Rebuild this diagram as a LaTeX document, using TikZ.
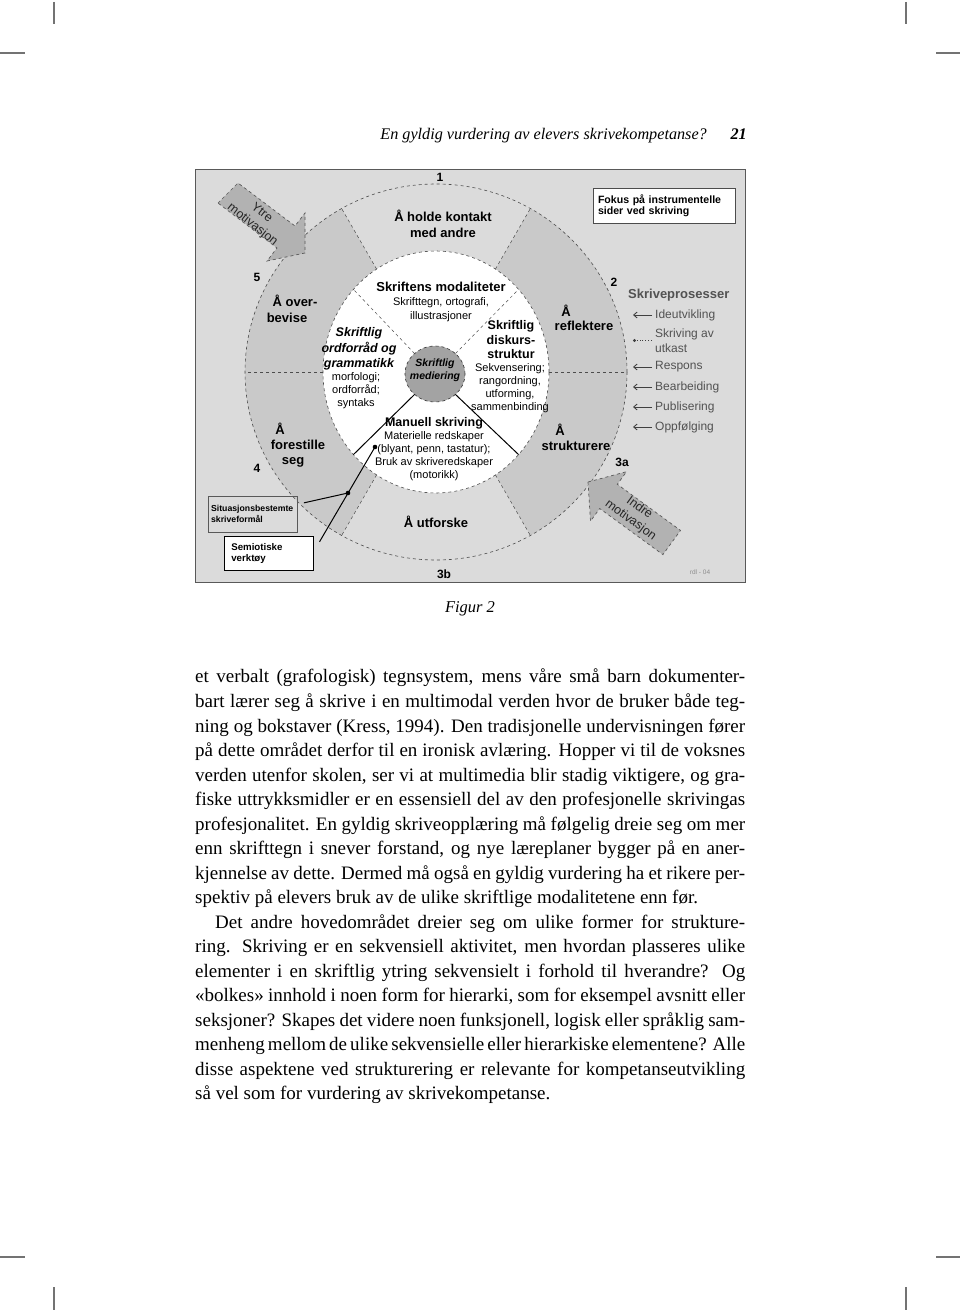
\documentclass[tikz,border=0pt]{standalone}
\usepackage{fontspec}
\setmainfont{Liberation Serif}
\newfontfamily\figfont{Liberation Sans}
\usetikzlibrary{shapes.geometric,arrows.meta}

\newcommand\jline[1]{\makebox[550pt][s]{#1}}
\newcommand\bodyfont{\fontsize{19}{24.53}\selectfont\spaceskip=.25em plus .5em minus .1em\relax}

\tikzset{
  figtext/.style={font=\figfont\fontsize{11}{13}\selectfont, align=center, inner sep=0pt},
  figtitle/.style={font=\figfont\bfseries\fontsize{12.5}{15}\selectfont, align=center, inner sep=0pt},
  ringlabel/.style={font=\figfont\bfseries\fontsize{13}{16}\selectfont, align=center, inner sep=0pt},
  numlabel/.style={font=\figfont\bfseries\fontsize{12}{14}\selectfont, inner sep=0pt},
  procitem/.style={font=\figfont\fontsize{12}{14.5}\selectfont, text=black!68, align=left, anchor=west, inner sep=0pt},
  procarrow/.style={draw=black!75, line width=0.9pt, -{Straight Barb[length=3.5pt,width=6pt]}},
  blockarrow/.style={fill=black!30, draw=black!65, dashed, line width=0.7pt},
  arrowtext/.style={font=\figfont\fontsize{12.5}{15}\selectfont, text=black!85, align=center, inner sep=0pt},
  notebox/.style={font=\figfont\bfseries\fontsize{10.6}{11}\selectfont, draw=black!70, fill=white, align=left, inner ysep=0pt},
  ringedge/.style={ellipse, draw=black!70, dashed, line width=0.6pt, inner sep=0pt, outer sep=0pt},
  cropmark/.style={draw=black!55, line width=1.4pt},
  leader/.style={draw=black, line width=1pt},
}

\begin{document}
\begin{tikzpicture}[x=1pt, y=-1pt]
\useasboundingbox (0,0) rectangle (960,1313);
\fill[white] (0,0) rectangle (960,1313);

% crop marks
\draw[cropmark] (54,2) -- (54,24);
\draw[cropmark] (906,2) -- (906,24);
\draw[cropmark] (0,53) -- (25,53);
\draw[cropmark] (936,53) -- (960,53);
\draw[cropmark] (0,1257) -- (25,1257);
\draw[cropmark] (936,1257) -- (960,1257);
\draw[cropmark] (54,1287) -- (54,1310);
\draw[cropmark] (906,1287) -- (906,1310);

% running head
\node[anchor=base east, inner sep=0pt, font=\itshape\fontsize{16.2}{20}\selectfont] (runhead) at (707,140) {En gyldig vurdering av elevers skrivekompetanse?};
\node[anchor=base east, inner sep=0pt, font=\bfseries\itshape\fontsize{16.2}{20}\selectfont] (folio) at (747,140) {21};

% figure background and ring
\fill[black!14] (195,170) rectangle (745,582);
\begin{scope}
  \clip (436,372) -- (236,26) -- (0,26) -- (0,718) -- (236,718) -- cycle;
  \fill[black!21] (436,372) ellipse [x radius=191pt, y radius=188pt];
\end{scope}
\begin{scope}
  \clip (436,372) -- (636,26) -- (960,26) -- (960,718) -- (636,718) -- cycle;
  \fill[black!21] (436,372) ellipse [x radius=191pt, y radius=188pt];
\end{scope}

\node[ringedge, minimum width=382pt, minimum height=376pt] (outer) at (436,372) {};
\node[ringedge, fill=white, minimum width=226pt, minimum height=242pt] (inner) at (436,372) {};
\foreach \a in {0,60,120,180,240,300}
  \draw[black!70, dashed, line width=0.5pt] (inner.\a) -- (outer.\a);
\node[ringedge, fill=black!36, draw=black!80, minimum width=60pt, minimum height=56pt] (core) at (435,374) {};
\foreach \a in {45,135}
  \draw[black!70, dashed, line width=0.5pt] (core.\a) -- (inner.\a);
\foreach \a in {225,315}
  \draw[black, line width=1pt] (core.\a) -- (inner.\a);

% numbers
\node[numlabel] (n1) at (440,177) {1};
\node[numlabel] (n2) at (614,282) {2};
\node[numlabel] (n3a) at (622,462) {3a};
\node[numlabel] (n3b) at (444,574) {3b};
\node[numlabel] (n4) at (257,468) {4};
\node[numlabel] (n5) at (257,277) {5};

% ring labels
\node[ringlabel] (holdeKontakt) at (443,224) {Å holde kontakt\\med andre};
\node[ringlabel] (overbeviseA) at (295,301) {Å over-};
\node[ringlabel] (overbeviseB) at (287,318) {bevise};
\node[ringlabel] (forestilleA) at (280,429) {Å};
\node[ringlabel] (forestilleB) at (298,445) {forestille};
\node[ringlabel] (forestilleC) at (293,462) {seg};
\node[ringlabel] (reflektereA) at (566,311) {Å};
\node[ringlabel] (reflektereB) at (584,326) {reflektere};
\node[ringlabel] (struktureA) at (560,430) {Å};
\node[ringlabel] (struktureB) at (576,446) {strukturere};
\node[ringlabel] (utforske) at (436,522) {Å utforske};

% inner circle texts
\node[figtitle, font=\figfont\bfseries\fontsize{13}{15}\selectfont] (modalTitle) at (441,287) {Skriftens modaliteter};
\node[figtext, font=\figfont\fontsize{11}{14}\selectfont] (modalText) at (441,310) {Skrifttegn, ortografi,\\illustrasjoner};
\node[figtitle, font=\figfont\bfseries\itshape\fontsize{12.5}{15.5}\selectfont] (ordTitle) at (359,349) {Skriftlig\\ordforråd og\\grammatikk};
\node[figtext] (ordText) at (356,391) {morfologi;\\ordforråd;\\syntaks};
\node[figtitle, font=\figfont\bfseries\fontsize{12.5}{14.5}\selectfont] (diskTitle) at (511,340) {Skriftlig\\diskurs-\\struktur};
\node[figtext] (diskText) at (510,388) {Sekvensering;\\rangordning,\\utforming,\\sammenbinding};
\node[figtitle] (manTitle) at (434,423) {Manuell skriving};
\node[figtext] (manText) at (434,456.5) {Materielle redskaper\\(blyant, penn, tastatur);\\Bruk av skriveredskaper\\(motorikk)};
\node[figtitle, font=\figfont\bfseries\itshape\fontsize{10.5}{13}\selectfont] (coreText) at (435,370) {Skriftlig\\mediering};

% motivation arrows
\filldraw[blockarrow] (218,203) -- (238,183) -- (295,226) -- (305,213) -- (305,253) -- (267,261) -- (277,248) -- cycle;
\node[arrowtext, rotate=-38] (ytre) at (257,219) {Ytre\\motivasjon};
\filldraw[blockarrow] (588,482) -- (626.5,471.7) -- (617.3,484.3) -- (680.5,530.4) -- (662.9,554.6) -- (599.7,508.5) -- (590.5,521.1) -- cycle;
\node[arrowtext, rotate=-36] (indre) at (635,514) {Indre\\motivasjon};

% note box
\node[notebox, text width=132pt, inner xsep=5pt, minimum height=35pt] (fokus) at (664,205.5) {Fokus på instrumentelle\\sider ved skriving};

% writing processes
\node[procitem, font=\figfont\bfseries\fontsize{13}{15}\selectfont] (prosesser) at (628,295) {Skriveprosesser};
\node[procitem] (ide) at (655,315) {Ideutvikling};
\node[procitem] (utkast) at (655,340.5) {Skriving av\\utkast};
\node[procitem] (respons) at (655,367) {Respons};
\node[procitem] (bearb) at (655,387) {Bearbeiding};
\node[procitem] (publ) at (655,407) {Publisering};
\node[procitem] (oppf) at (655,427) {Oppfølging};
\foreach \n in {ide,respons,bearb,publ,oppf}
  \draw[procarrow] ([xshift=-3pt]\n.west) -- ([xshift=-22pt]\n.west);
\draw[procarrow, dotted, -{Circle[length=3pt]}] ([xshift=-3pt]utkast.west) -- ([xshift=-22pt]utkast.west);

% purpose and tools
\node[draw=black!65, font=\figfont\bfseries\fontsize{8.7}{11.5}\selectfont, align=left, inner xsep=1pt, inner ysep=0pt, minimum width=89pt, minimum height=35.7pt] (situ) at (252.2,513.9) {Situasjonsbestemte\\skriveformål};
\node[draw=black, fill=white, font=\figfont\bfseries\fontsize{9.7}{11}\selectfont, text width=75pt, align=left, inner xsep=7pt, inner ysep=0pt, minimum height=34pt] (semio) at (268.8,553) {Semiotiske\\verktøy};
\coordinate (penDot) at (375,447);
\coordinate (jointDot) at (348,493);
\draw[leader] ([shift={(6,6)}]semio.north east) -- (penDot);
\draw[leader] ([shift={(7,7)}]situ.north east) -- (jointDot);
\fill (penDot) circle[radius=2.3pt];
\fill (jointDot) circle[radius=2.3pt];

\node[font=\figfont\fontsize{6.5}{8}\selectfont, text=black!45, inner sep=0pt] (stamp) at (700,572) {rdl - 04};
\draw[black!65, line width=1pt] (195,170) rectangle (745,582);

% caption
\node[inner sep=0pt, font=\itshape\fontsize{16.5}{20}\selectfont] (caption) at (470,609) {Figur 2};

% body text
\node[anchor=north west, inner sep=0pt, align=left, font=\bodyfont] (body) at (195,669) {%
\jline{et verbalt (grafologisk) tegnsystem, mens våre små barn dokumenter-}\\
\jline{bart lærer seg å skrive i en multimodal verden hvor de bruker både teg-}\\
\jline{ning og bokstaver (Kress, 1994). Den tradisjonelle undervisningen fører}\\
\jline{på dette området derfor til en ironisk avlæring. Hopper vi til de voksnes}\\
\jline{verden utenfor skolen, ser vi at multimedia blir stadig viktigere, og gra-}\\
\jline{fiske uttrykksmidler er en essensiell del av den profesjonelle skrivingas}\\
\jline{profesjonalitet. En gyldig skriveopplæring må følgelig dreie seg om mer}\\
\jline{enn skrifttegn i snever forstand, og nye læreplaner bygger på en aner-}\\
\jline{kjennelse av dette. Dermed må også en gyldig vurdering ha et rikere per-}\\
spektiv på elevers bruk av de ulike skriftlige modalitetene enn før.\\
\hspace*{20pt}\makebox[530pt][s]{Det andre hovedområdet dreier seg om ulike former for strukture-}\\
\jline{ring. Skriving er en sekvensiell aktivitet, men hvordan plasseres ulike}\\
\jline{elementer i en skriftlig ytring sekvensielt i forhold til hverandre? Og}\\
\jline{«bolkes» innhold i noen form for hierarki, som for eksempel avsnitt eller}\\
\jline{seksjoner? Skapes det videre noen funksjonell, logisk eller språklig sam-}\\
\jline{menheng mellom de ulike sekvensielle eller hierarkiske elementene? Alle}\\
\jline{disse aspektene ved strukturering er relevante for kompetanseutvikling}\\
så vel som for vurdering av skrivekompetanse.};
\end{tikzpicture}
\end{document}
